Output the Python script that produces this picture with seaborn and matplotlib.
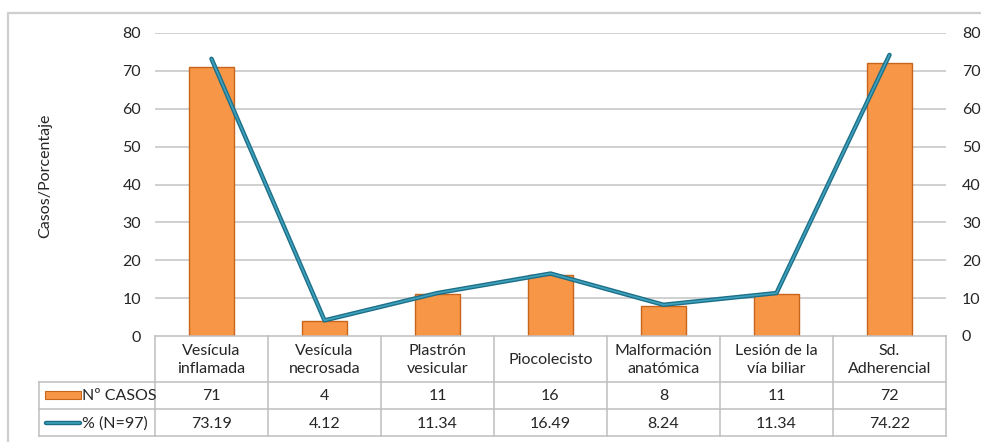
import matplotlib
matplotlib.use("Agg")
import matplotlib.pyplot as plt
import seaborn as sns
import pandas as pd
from matplotlib.lines import Line2D
from matplotlib.patches import Rectangle

# Complicaciones y su frecuencia
categorias = ["Vesícula\ninflamada", "Vesícula\nnecrosada", "Plastrón\nvesicular",
              "Piocolecisto", "Malformación\nanatómica", "Lesión de la\nvía biliar",
              "Sd.\nAdherencial"]
casos = [71, 4, 11, 16, 8, 11, 72]
porcentaje = [73.19, 4.12, 11.34, 16.49, 8.24, 11.34, 74.22]
serie_casos = "Nº CASOS"
serie_pct = "% (N=97)"
y_ticks = [0, 10, 20, 30, 40, 50, 60, 70, 80]
y_label = "Casos/Porcentaje"

ORANGE = "#f79646"
ORANGE_EDGE = "#c8651c"
TEAL_DARK = "#1d6f88"
TEAL_LIGHT = "#3fa2bd"
GRID = "#c4c4c4"
BORDER = "#bfbfbf"
TXT = "#262626"
FONT = ["Lato", "DejaVu Sans"]
FS = 11.5

sns.set_theme(style="white")
plt.rcParams["font.family"] = FONT

W, H = 981, 442
fig = plt.figure(figsize=(W / 100, H / 100), dpi=100)

# plot area in pixel coordinates
x0, x1 = 155, 946
y_top, y_zero = 33, 336
ax = fig.add_axes([x0 / W, 1 - y_zero / H, (x1 - x0) / W, (y_zero - y_top) / H])

df = pd.DataFrame({"cat": categorias, "casos": casos, "pct": porcentaje,
                   "pos": range(len(categorias))})

sns.barplot(data=df, x="pos", y="casos", ax=ax, color=ORANGE, width=0.4,
            edgecolor=ORANGE_EDGE, linewidth=1.0, saturation=1, zorder=3)
ax.set_xlim(-0.5, len(categorias) - 0.5)
ax.set_ylim(y_ticks[0], y_ticks[-1])
ax.set_yticks(y_ticks)
ax.set_xticks([])
ax.set_xlabel("")
ax.set_ylabel("")
for y in y_ticks[1:]:
    ax.axhline(y, color=GRID, lw=1.1, zorder=1)
for s in ax.spines.values():
    s.set_visible(False)
ax.tick_params(axis="y", length=0, pad=10, labelsize=FS, labelcolor=TXT)

ax2 = ax.twinx()
sns.lineplot(data=df, x="pos", y="pct", ax=ax2, color=TEAL_DARK, lw=3.2,
             solid_capstyle="round", zorder=4)
sns.lineplot(data=df, x="pos", y="pct", ax=ax2, color=TEAL_LIGHT, lw=1.2,
             solid_capstyle="round", zorder=5)
ax2.set_ylim(y_ticks[0], y_ticks[-1])
ax2.set_yticks(y_ticks)
ax2.set_xlim(-0.5, len(categorias) - 0.5)
ax2.set_xlabel("")
ax2.set_ylabel("")
for s in ax2.spines.values():
    s.set_visible(False)
ax2.tick_params(axis="y", length=0, pad=11.5, labelsize=FS, labelcolor=TXT)

# overlay in pixel coordinates for the data table and the frame
ov = fig.add_axes([0, 0, 1, 1], zorder=10)
ov.set_xlim(0, W)
ov.set_ylim(H, 0)
ov.axis("off")
ov.patch.set_alpha(0)

# outer frame
ov.plot([8, 8, W], [H, 13, 13], color="#cfcfcf", lw=1.6, solid_capstyle="butt")

n = len(categorias)
cw = (x1 - x0) / n
leg_x = 39
r0, r1, r2, r3 = y_zero, 382, 409, 436
lk = dict(color=BORDER, lw=1.1, solid_capstyle="projecting")

# horizontal lines
ov.plot([x0, x1], [r0, r0], **lk)
for r in (r1, r2, r3):
    ov.plot([leg_x, x1], [r, r], **lk)
# vertical lines
ov.plot([leg_x, leg_x], [r1, r3], **lk)
for i in range(n + 1):
    ov.plot([x0 + i * cw] * 2, [r0, r3], **lk)

tk = dict(ha="center", va="center", fontsize=FS, color=TXT, family=FONT)
for i, (c, v, p) in enumerate(zip(categorias, casos, porcentaje)):
    cx = x0 + (i + 0.5) * cw
    ov.text(cx, (r0 + r1) / 2 + 1, c, linespacing=1.35, **tk)
    ov.text(cx, (r1 + r2) / 2 + 1, f"{v}", **tk)
    ov.text(cx, (r2 + r3) / 2 + 1, f"{p:.2f}", **tk)

# legend keys inside the table
ov.add_patch(Rectangle((45, 391), 36, 8, facecolor=ORANGE, edgecolor=ORANGE_EDGE, lw=0.8))
ov.add_line(Line2D([46, 80], [423, 423], color=TEAL_DARK, lw=3.2, solid_capstyle="round"))
ov.add_line(Line2D([46, 80], [423, 423], color=TEAL_LIGHT, lw=1.1, solid_capstyle="round"))
ov.text(82, (r1 + r2) / 2 + 1, serie_casos, ha="left", va="center", fontsize=FS,
        color=TXT, family=FONT)
ov.text(82, (r2 + r3) / 2 + 1, serie_pct, ha="left", va="center", fontsize=FS,
        color=TXT, family=FONT)

# axis title
ov.text(45, 176, y_label, rotation=90, ha="center", va="center", fontsize=FS,
        color=TXT, family=FONT)

fig.savefig("out.png", dpi=100)
